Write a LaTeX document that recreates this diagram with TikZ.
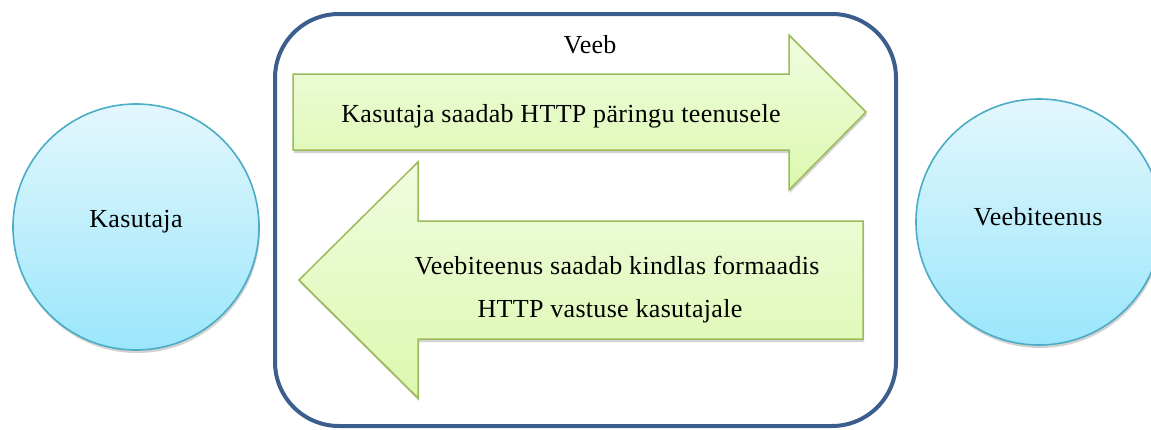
\documentclass[tikz,border=0pt]{standalone}
\usepackage{fontspec}
\setmainfont[LetterSpace=1.2]{Liberation Serif}
\usetikzlibrary{shadows}
\definecolor{circb}{HTML}{4BACC6}
\definecolor{circt}{HTML}{E3F7FD}
\definecolor{circbot}{HTML}{9BE6FB}
\definecolor{arrb}{HTML}{9BBB59}
\definecolor{arrt}{HTML}{F0FCE0}
\definecolor{arrbot}{HTML}{DCF8AE}
\definecolor{frame}{HTML}{3B5E8C}
\tikzset{
  actor/.style={circle, draw=circb, line width=1.6pt, minimum size=246pt,
    top color=circt, bottom color=circbot, inner sep=0pt,
    drop shadow={shadow xshift=1pt, shadow yshift=-3pt, fill=black!35, opacity=0.5}},
  bigarrow/.style={draw=arrb, line width=1.5pt, top color=arrt, bottom color=arrbot,
    drop shadow={shadow xshift=1pt, shadow yshift=-3pt, fill=black!35, opacity=0.5}},
  lbl/.style={font=\fontsize{26}{31}\selectfont, inner sep=0pt}
}
\begin{document}
\begin{tikzpicture}[x=1pt,y=-1pt]
\useasboundingbox (0,0) rectangle (1151,429);
% frame
\draw[frame, line width=4pt, rounded corners=64pt] (275,14) rectangle (896,426);
\node[lbl] (veeb) at (590,45) {Veeb};
% circles
\node[actor] (kasutaja) at (136,227) {};
\node[lbl] (kasutajaT) at (136,222) {Kasutaja};
\node[actor] (teenus) at (1039,222) {};
\node[lbl] (teenusT) at (1038,217) {Veebiteenus};
% right arrow
\path[bigarrow] (293,74) -- (789,74) -- (789,35) -- (866,112) -- (789,190) -- (789,150) -- (293,150) -- cycle;
\node[lbl] (req) at (561,116) {Kasutaja saadab HTTP päringu teenusele};
% left arrow
\path[bigarrow] (863,221) -- (418,221) -- (418,162) -- (299,280) -- (418,398) -- (418,339) -- (863,339) -- cycle;
\node[lbl] (resp1) at (617,266) {Veebiteenus saadab kindlas formaadis};
\node[lbl] (resp2) at (610,311) {HTTP vastuse kasutajale};
\end{tikzpicture}
\end{document}
